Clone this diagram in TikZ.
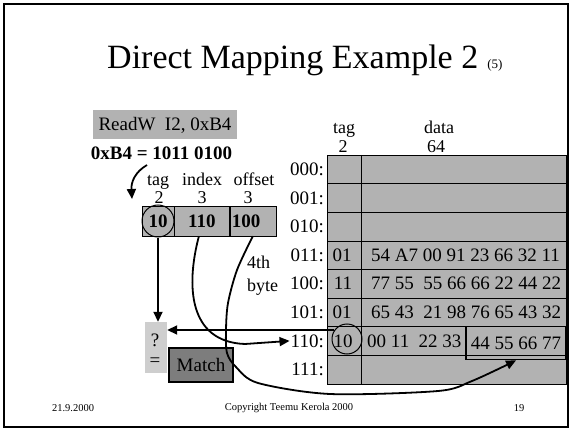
\documentclass[tikz,border=0pt]{standalone}
\usepackage{fontspec}
\setmainfont{Liberation Serif}
\usetikzlibrary{arrows.meta,positioning}
\definecolor{cellgray}{RGB}{178,178,178}
\definecolor{qgray}{RGB}{206,206,206}
\definecolor{matchgray}{RGB}{125,125,125}

\begin{document}
\begin{tikzpicture}[x=1pt,y=-1pt,
  txt/.style={inner sep=0pt,font=\fontsize{19}{21}\selectfont},
  lbl/.style={inner sep=0pt,anchor=base,font=\fontsize{18}{20}\selectfont},
  bits/.style={draw,fill=cellgray,minimum height=30pt,inner sep=2pt,
    font=\fontsize{19}{21}\selectfont\bfseries},
  foot/.style={inner sep=0pt,font=\fontsize{10.5}{12}\selectfont},
  arr/.style={line width=1.8pt,-{Triangle[length=10pt,width=9pt]}}]
\useasboundingbox (0,0) rectangle (572,430);
\draw[line width=2pt] (4,4) rectangle (568,427);

% title
\node[anchor=base west,inner sep=0pt,font=\fontsize{34}{36}\selectfont] (title) at (107,69)
  {Direct Mapping Example 2\hspace{9pt}{\fontsize{13}{15}\selectfont(5)}};

% instruction and address
\node[txt,fill=cellgray,minimum width=144pt,minimum height=29pt] (instr) at (165,125) {ReadW\ \ I2, 0xB4};
\node[txt,font=\fontsize{19}{21}\selectfont\bfseries] (addr) at (161.5,153) {0xB4 = 1011 0100};
\coordinate (bstart) at (147,165);

% address fields
\node[bits,minimum width=32pt] (ftag) at (158,221) {10};
\node[bits,minimum width=55pt,right=0pt of ftag] (findex) {110};
\node[bits,text width=42pt,align=left,right=0pt of findex] (foff) {100};
\node[circle,draw,line width=1pt,minimum size=32pt] (c1) at (158,221) {};
\node[lbl] at (158,186) {tag};
\node[lbl] at (202,186) {index};
\node[lbl] at (254,186) {offset};
\node[lbl] at (159,204) {2};
\node[lbl] at (202,204) {3};
\node[lbl] at (248,204) {3};
\node[lbl,anchor=base west] at (247,268) {4th};
\node[lbl,anchor=base west] at (247,291) {byte};

% compare and match
\node[fill=qgray,minimum width=22pt,minimum height=51pt] (qbox) at (156,347.5) {};
\node[txt] (qmark) at (155,340) {?};
\node[txt] (eq) at (155,362) {=};
\node[txt,draw,line width=1.5pt,fill=matchgray,minimum width=64pt,minimum height=34pt] (match) at (201,365) {Match};

% cache
\fill[cellgray] (327,155) rectangle (566,384);
\foreach \i in {1,...,7}
  \draw (327,{155+28.6*\i}) -- (566,{155+28.6*\i});
\draw (327,155) rectangle (566,384);
\draw (361,155) -- (361,384);
\foreach \lab [count=\i from 0] in {000,001,010,011,100,101,110,111}
  \node[txt,anchor=east] (r\i) at (324,{169.3+28.6*\i}) {\lab:};
\node[lbl] at (344,134) {tag};
\node[lbl] at (343,153) {2};
\node[lbl] at (439,134) {data};
\node[lbl] at (436,153) {64};
\node[txt] (t3) at (342,255.1) {01};
\node[txt] (t4) at (343,283.7) {11};
\node[txt] (t5) at (342,312.3) {01};
\node[txt] (t6) at (343,340.9) {10};
\node[txt,anchor=west] (d3) at (371,255.1) {54 A7 00 91 23 66 32 11};
\node[txt,anchor=west] (d4) at (371,283.7) {77 55\ \ 55 66 66 22 44 22};
\node[txt,anchor=west] (d5) at (371,312.3) {65 43\ \ 21 98 76 65 43 32};
\node[txt,anchor=west] (d6) at (367,340.9) {00 11\ \ 22 33};
\node[txt,draw,line width=1.8pt,minimum width=100pt,minimum height=33pt] (hit) at (516,343) {44 55 66 77};
\node[circle,draw,line width=1pt,minimum size=30pt] (c2) at (347,339) {};
\coordinate (hstart) at (334,330);

% connectors
\draw[arr] (bstart) .. controls (135,172) and (131,182) .. (132,199);
\draw[arr] (c1.south) -- (c1.south |- qbox.north);
\draw[arr] (hstart) -- (hstart -| qbox.east);
\draw[arr] ([xshift=-3pt]findex.south) .. controls (186,285) and (188,342) .. (245,344) -- ([xshift=-1pt]r6.west);
\draw[arr] plot[smooth] coordinates {(foff.south) (237,270) (228,303) (226,330) (227,353) (236,367) (258,383) (330,394) (438,391) (472,381) (hit.south)};

% footer
\node[foot] at (73,408) {21.9.2000};
\node[foot] at (289,408) {Copyright Teemu Kerola 2000};
\node[foot] at (519,408) {19};
\end{tikzpicture}
\end{document}
